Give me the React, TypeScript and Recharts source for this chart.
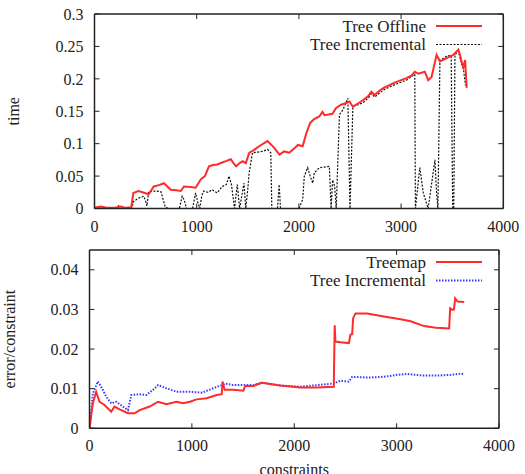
import { LineChart, Line, XAxis, YAxis, Legend } from "recharts";

// constraints (x) and time (y) for the top plot
const treeOffline = [
  [0, 0.001], [60, 0.003], [120, 0.001], [200, 0.001], [260, 0.003], [300, 0.001], [360, 0.002],
  [380, 0.024], [430, 0.027], [470, 0.025], [530, 0.022], [580, 0.034], [630, 0.036], [680, 0.039],
  [745, 0.029], [800, 0.028], [845, 0.027], [875, 0.034], [940, 0.033], [990, 0.032], [1040, 0.045],
  [1080, 0.05], [1120, 0.065], [1160, 0.067], [1200, 0.068], [1250, 0.071], [1285, 0.073], [1333, 0.076],
  [1360, 0.07], [1385, 0.065], [1420, 0.07], [1450, 0.073], [1480, 0.07], [1515, 0.086], [1560, 0.09],
  [1610, 0.096], [1693, 0.104], [1750, 0.095], [1810, 0.083], [1856, 0.088], [1906, 0.086], [1950, 0.092],
  [1990, 0.098], [2037, 0.096], [2070, 0.115], [2110, 0.132], [2150, 0.138], [2200, 0.142], [2230, 0.149],
  [2250, 0.144], [2328, 0.146], [2364, 0.155], [2413, 0.16], [2450, 0.162], [2495, 0.165], [2528, 0.157],
  [2577, 0.162], [2626, 0.167], [2676, 0.173], [2709, 0.18], [2742, 0.175], [2790, 0.182], [2830, 0.186],
  [2921, 0.193], [3000, 0.198], [3052, 0.201], [3100, 0.205], [3134, 0.211], [3168, 0.208], [3232, 0.211],
  [3265, 0.198], [3298, 0.203], [3330, 0.225], [3347, 0.237], [3380, 0.227], [3445, 0.232], [3510, 0.237],
  [3560, 0.245], [3580, 0.235], [3593, 0.226], [3610, 0.218], [3626, 0.229], [3642, 0.186],
];

const treeIncrementalTime = [
  [0, 0], [50, 0.002], [100, 0], [200, 0], [235, 0.004], [260, 0], [363, 0], [383, 0.011], [432, 0.016],
  [481, 0.019], [500, 0.012], [513, 0.004], [530, 0.026], [600, 0.027], [650, 0.026], [693, 0.002],
  [720, 0], [830, 0], [858, 0.019], [880, 0.012], [900, 0], [960, 0], [989, 0.024], [1010, 0.01],
  [1030, 0], [1050, 0.02], [1070, 0.027], [1110, 0.025], [1152, 0.029], [1201, 0.024], [1250, 0.034],
  [1290, 0.037], [1316, 0.05], [1340, 0.037], [1370, 0], [1397, 0.037], [1420, 0], [1463, 0.039],
  [1480, 0], [1500, 0.03], [1513, 0.055], [1546, 0.086], [1600, 0.087], [1644, 0.088], [1693, 0.091],
  [1725, 0.086], [1735, 0], [1790, 0], [1807, 0.037], [1820, 0], [2000, 0], [2037, 0.014], [2053, 0.05],
  [2086, 0.063], [2110, 0.05], [2135, 0.039], [2151, 0.055], [2200, 0.063], [2298, 0.065], [2315, 0],
  [2330, 0.044], [2350, 0.034], [2365, 0], [2397, 0.145], [2430, 0.152], [2479, 0.17], [2500, 0],
  [2528, 0.157], [2577, 0.16], [2626, 0.163], [2676, 0.17], [2709, 0.177], [2742, 0.172], [2830, 0.183],
  [2921, 0.19], [3052, 0.198], [3134, 0.207], [3140, 0], [3183, 0.063], [3217, 0.024], [3265, 0],
  [3300, 0.04], [3331, 0.075], [3347, 0.024], [3360, 0], [3380, 0.228], [3445, 0.235], [3490, 0.236],
  [3505, 0], [3515, 0], [3527, 0.237], [3560, 0.243], [3590, 0.224], [3610, 0.215], [3630, 0.19],
];

// constraints (x) and error/constraint (y) for the bottom plot
const treemap = [
  [0, 0], [33, 0.0063], [65, 0.0092], [98, 0.0067], [147, 0.0059], [212, 0.0042], [245, 0.0055],
  [294, 0.0048], [376, 0.0038], [441, 0.0038], [490, 0.0046], [588, 0.0055], [670, 0.0067], [751, 0.0061],
  [850, 0.0067], [915, 0.0063], [980, 0.0067], [1046, 0.0073], [1144, 0.0076], [1242, 0.0084],
  [1291, 0.0086], [1300, 0.0118], [1320, 0.0097], [1405, 0.0097], [1503, 0.0095], [1520, 0.0107],
  [1601, 0.0107], [1683, 0.0115], [1732, 0.0113], [1863, 0.0108], [2059, 0.0103], [2222, 0.0103],
  [2386, 0.0105], [2395, 0.026], [2402, 0.0219], [2451, 0.0217], [2533, 0.0215], [2549, 0.0236],
  [2566, 0.0238], [2575, 0.0278], [2598, 0.029], [2712, 0.029], [2876, 0.0282], [3039, 0.0275],
  [3137, 0.027], [3268, 0.0258], [3382, 0.0254], [3513, 0.0252], [3523, 0.0303], [3546, 0.0299],
  [3560, 0.03], [3572, 0.0328], [3595, 0.032], [3660, 0.0319],
];

const treeIncrementalError = [
  [0, 0], [33, 0.0088], [81, 0.0118], [114, 0.0105], [163, 0.008], [212, 0.0063], [261, 0.0067],
  [326, 0.0055], [376, 0.0046], [408, 0.0084], [490, 0.0086], [555, 0.0084], [620, 0.0097], [670, 0.0109],
  [751, 0.0101], [850, 0.0092], [980, 0.0092], [1100, 0.009], [1209, 0.0101], [1291, 0.0109],
  [1324, 0.0113], [1400, 0.0109], [1503, 0.0109], [1600, 0.0109], [1683, 0.0115], [1863, 0.0108],
  [2059, 0.0105], [2222, 0.0109], [2386, 0.0113], [2451, 0.012], [2533, 0.0118], [2566, 0.013],
  [2712, 0.0128], [2876, 0.013], [3006, 0.0135], [3104, 0.0137], [3268, 0.0133], [3400, 0.0133],
  [3530, 0.0135], [3627, 0.0138], [3660, 0.0137],
];

const xTicks = [0, 1000, 2000, 3000, 4000];
const timeTicks = [0, 0.05, 0.1, 0.15, 0.2, 0.25, 0.3];
const errorTicks = [0, 0.01, 0.02, 0.03, 0.04];

const toRows = (pts: number[][]) => pts.map(([c, v]) => ({ c, v }));

const FONT = "'Liberation Serif', 'Times New Roman', 'DejaVu Serif', serif";
const INK = "#222";
const tickStyle = { fill: INK, fontSize: 16, fontFamily: FONT };
const frame = { stroke: INK, strokeWidth: 1.5 };
const blank = () => "";

function LegendBox({ items }: { items: { name: string; color: string; dash?: string; width: number }[] }) {
  return (
    <svg width={190} height={42} style={{ overflow: "visible" }}>
      {items.map((it, i) => (
        <g key={it.name}>
          <text x={126} y={17.5 + i * 18.5} textAnchor="end" style={{ fontFamily: FONT, fontSize: 17 }} fill={INK}>
            {it.name}
          </text>
          <line x1={136} x2={182} y1={12 + i * 18.5} y2={12 + i * 18.5} stroke={it.color}
            strokeWidth={it.width} strokeDasharray={it.dash} />
        </g>
      ))}
    </svg>
  );
}

export default function App() {
  return (
    <div style={{ position: "absolute", left: 0, top: 0, width: 525, height: 474, background: "#fff", fontFamily: FONT }}>
      <LineChart width={525} height={240} margin={{ top: 13, right: 20.7, bottom: 0, left: 0 }} style={{ fontFamily: FONT }}>
        <XAxis dataKey="c" type="number" domain={[0, 4000]} ticks={xTicks} allowDataOverflow
          height={31.5} tick={tickStyle} tickSize={-5} tickMargin={17} axisLine={frame}
          tickLine={{ stroke: INK }} />
        <XAxis xAxisId="top" orientation="top" dataKey="c" type="number" domain={[0, 4000]} ticks={xTicks}
          allowDataOverflow height={1} tickSize={-5} tickFormatter={blank} axisLine={frame}
          tickLine={{ stroke: INK }} />
        <YAxis type="number" domain={[0, 0.3]} ticks={timeTicks} allowDataOverflow width={94.5}
          tick={tickStyle} tickSize={-5} tickMargin={16} axisLine={frame} tickLine={{ stroke: INK }}
          label={{ value: "time", angle: -90, position: "center", dx: -34, fill: INK, fontSize: 16, fontFamily: FONT }} />
        <YAxis yAxisId="r" orientation="right" type="number" domain={[0, 0.3]} ticks={timeTicks}
          allowDataOverflow width={1} tickSize={-5} tickFormatter={blank} axisLine={frame}
          tickLine={{ stroke: INK }} />
        <Legend layout="horizontal" verticalAlign="middle" align="center"
          wrapperStyle={{ position: "absolute", left: 300, top: 14, width: 190 }}
          content={() => (
            <LegendBox items={[
              { name: "Tree Offline", color: "#ff2a2a", width: 2 },
              { name: "Tree Incremental", color: "#111", dash: "2 1.5", width: 1.2 },
            ]} />
          )} />
        <Line data={toRows(treeIncrementalTime)} dataKey="v" name="Tree Incremental" type="linear"
          stroke="#111" strokeWidth={1.2} strokeDasharray="2 1.5" dot={false} isAnimationActive={false} />
        <Line data={toRows(treeOffline)} dataKey="v" name="Tree Offline" type="linear"
          stroke="#ff2a2a" strokeWidth={2} dot={false} isAnimationActive={false} />
      </LineChart>
      <LineChart width={525} height={234} margin={{ top: 9, right: 25, bottom: 0, left: 0 }} style={{ fontFamily: FONT }}>
        <XAxis dataKey="c" type="number" domain={[0, 4000]} ticks={xTicks} allowDataOverflow
          height={45.7} tick={tickStyle} tickSize={-5} tickMargin={16} axisLine={frame}
          tickLine={{ stroke: INK }}
          label={{ value: "constraints", position: "insideBottom", offset: -1, fill: INK, fontSize: 16, fontFamily: FONT }} />
        <XAxis xAxisId="top" orientation="top" dataKey="c" type="number" domain={[0, 4000]} ticks={xTicks}
          allowDataOverflow height={1} tickSize={-5} tickFormatter={blank} axisLine={frame}
          tickLine={{ stroke: INK }} />
        <YAxis type="number" domain={[0, 0.045]} ticks={errorTicks} allowDataOverflow width={89.5}
          tick={tickStyle} tickSize={-5} tickMargin={16} axisLine={frame} tickLine={{ stroke: INK }}
          label={{ value: "error/constraint", angle: -90, position: "center", dx: -35, fill: INK, fontSize: 16, fontFamily: FONT }} />
        <YAxis yAxisId="r" orientation="right" type="number" domain={[0, 0.045]} ticks={errorTicks}
          allowDataOverflow width={1} tickSize={-5} tickFormatter={blank} axisLine={frame}
          tickLine={{ stroke: INK }} />
        <Legend layout="horizontal" verticalAlign="middle" align="center"
          wrapperStyle={{ position: "absolute", left: 300, top: 10, width: 190 }}
          content={() => (
            <LegendBox items={[
              { name: "Treemap", color: "#ff2a2a", width: 2 },
              { name: "Tree Incremental", color: "#3a3aff", dash: "1.5 1.5", width: 2 },
            ]} />
          )} />
        <Line data={toRows(treeIncrementalError)} dataKey="v" name="Tree Incremental" type="linear"
          stroke="#3a3aff" strokeWidth={2} strokeDasharray="1.5 1.5" dot={false} isAnimationActive={false} />
        <Line data={toRows(treemap)} dataKey="v" name="Treemap" type="linear"
          stroke="#ff2a2a" strokeWidth={2} dot={false} isAnimationActive={false} />
      </LineChart>
    </div>
  );
}
